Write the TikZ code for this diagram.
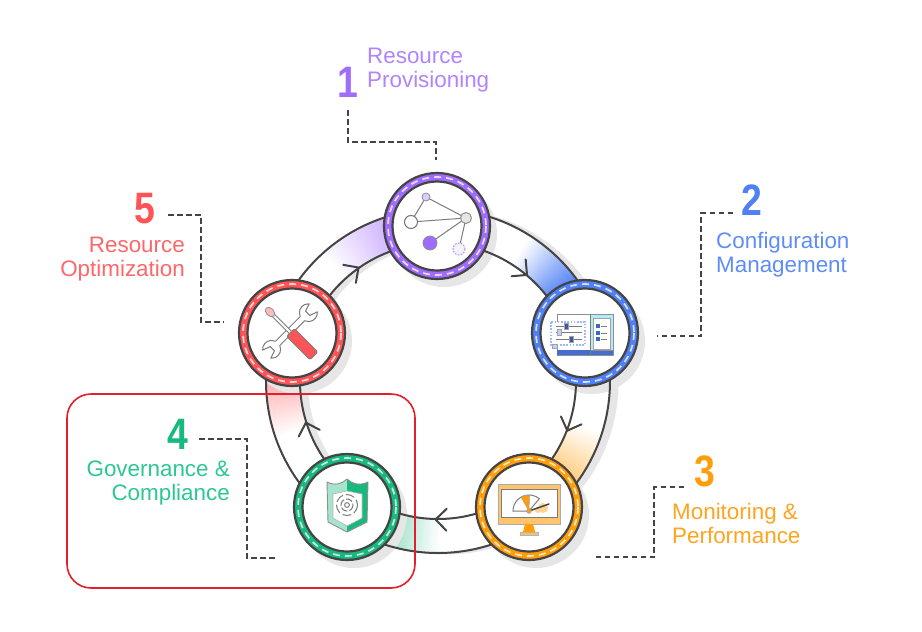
\documentclass[tikz,border=0pt]{standalone}
\usepackage{graphicx}
\usepackage{fontspec}
\setmainfont{Liberation Sans}
\usetikzlibrary{calc}
\definecolor{ink}{HTML}{444444}
\definecolor{softgrey}{HTML}{E6E6E6}
\definecolor{cpurple}{HTML}{A06BFF}
\definecolor{cblue}{HTML}{4F80F5}
\definecolor{corange}{HTML}{FF9D0A}
\definecolor{cgreen}{HTML}{17B97F}
\definecolor{cred}{HTML}{FF5457}
\definecolor{tpurple}{HTML}{B184FF}
\definecolor{tblue}{HTML}{5F8DF8}
\definecolor{torange}{HTML}{FFA41F}
\definecolor{tgreen}{HTML}{2CC893}
\definecolor{tred}{HTML}{FF6669}
\definecolor{framered}{HTML}{E2202C}
\newcommand{\dg}[1]{\scalebox{.85}[1]{#1}}
\tikzset{
  x=1pt,y=-1pt,
  ringnode/.style={circle,draw=ink,line width=2.2pt,fill=#1,minimum size=106pt,inner sep=0pt},
  digit/.style={font=\fontsize{44}{44}\selectfont\bfseries,inner sep=0pt,text=#1},
  tag/.style={font=\fontsize{22.4}{24}\selectfont,inner sep=0pt,text=#1},
  leader/.style={draw=ink,line width=1.7pt,dash pattern=on 5.5pt off 3.5pt},
}
% args: centre x, y, colour
\newcommand{\ringinner}[3]{%
  \fill[white,draw=ink,line width=2.2pt] (#1,#2) circle[radius=44.5];
  \draw[#3!25!white,line width=1.7pt,dash pattern=on 7pt off 5pt] (#1,#2) circle[radius=49];
}
% start angle, end angle, colour
\newcommand{\fadeband}[3]{%
  \foreach \i in {0,...,29}{%
    \pgfmathsetmacro{\ang}{#1+(#2-#1)*\i/30}
    \pgfmathsetmacro{\dl}{(#2-#1)/30*1.2}
    \pgfmathsetmacro{\pc}{100-100*\i/29}
    \draw[#3!\pc!white,line width=33pt] ({-\ang}:155) arc[start angle={-\ang},delta angle={-\dl},radius=155];
  }%
}
\newcommand{\barb}[1]{%
  \begin{scope}[shift={({-(#1)}:138.5)},rotate=#1-90]
    \draw[ink,line width=2pt,line cap=round,line join=miter] (-11,-11) -- (0,0) -- (-11,11);
  \end{scope}%
}
\begin{document}
\begin{tikzpicture}
\useasboundingbox (0,0) rectangle (922,632);
\fill[white] (0,0) rectangle (922,632);

% ring with its shadow
\begin{scope}[shift={(438,381)}]
  \fill[softgrey,even odd rule] (8,1) circle[radius=172.5] (8,1) circle[radius=138];
  \fill[white,even odd rule] (0,0) circle[radius=172] (0,0) circle[radius=138];
  \colorlet{fp}{cpurple!50!white}\fadeband{108}{133}{fp}
  \colorlet{fb}{cblue!95!white}\fadeband{36}{58}{fb}
  \colorlet{fo}{corange!50!white}\fadeband{-36}{-17}{fo}
  \colorlet{fg}{cgreen!45!white}\fadeband{-108}{-89}{fg}
  \colorlet{fr}{cred!45!white}\fadeband{180}{200}{fr}
\end{scope}

% node shadows
\foreach \px/\py in {437/226,585/333,529/507,347/507,292/333}{
  \fill[softgrey] (\px+7,\py+8) circle[radius=53];
}

\begin{scope}[shift={(438,381)}]
  \draw[ink,line width=2pt] (0,0) circle[radius=172] (0,0) circle[radius=138];
  \barb{125}\barb{50}\barb{-21}\barb{-91}\barb{197.5}
\end{scope}

% nodes
\node[ringnode=cpurple] (n1) at (437,226) {};
\node[ringnode=cblue]   (n2) at (585,333) {};
\node[ringnode=corange] (n3) at (529,507) {};
\node[ringnode=cgreen]  (n4) at (347,507) {};
\node[ringnode=cred]    (n5) at (292,333) {};
\ringinner{437}{226}{cpurple}
\ringinner{585}{333}{cblue}
\ringinner{529}{507}{corange}
\ringinner{347}{507}{cgreen}
\ringinner{292}{333}{cred}

% icon 1: network
\draw[ink!70,line width=1pt] (426,197) -- (466,218) -- (411,222) -- (426,197) (466,218) -- (430,243) (466,218) -- (459,249);
\fill[cpurple!35!white,draw=ink!60,line width=.8pt] (426,197) circle[radius=4];
\fill[white,draw=ink!75,line width=1pt] (411,222) circle[radius=6.5];
\fill[softgrey,draw=ink!60,line width=1pt] (466,218) circle[radius=5.5];
\fill[cpurple,draw=ink!60,line width=.8pt] (430,243) circle[radius=7];
\fill[softgrey!50!white] (459,249) circle[radius=6];
\draw[cpurple!80!white,line width=1pt,dash pattern=on 1.6pt off 1.4pt] (459,249) circle[radius=6];

% icon 2: settings panel
\fill[white,draw=ink!60,line width=1pt] (557,314) rectangle (613,355);
\fill[cblue!85!black] (557,350) rectangle (613,355);
\fill[cblue!45!cyan!35!white,draw=ink!60,line width=.8pt] (590,314) rectangle (613,350);
\draw[ink!70,line width=.8pt] (590,314) -- (590,355);
\fill[white,draw=ink!50,line width=.6pt] (593,318) rectangle (610,349);
\foreach \yy in {326,333,339}{
  \fill[cblue!80!black] (596,\yy-2) rectangle (600,\yy+2);
  \draw[ink!70,line width=.7pt] (601,\yy) -- (607,\yy);
}
\fill[white] (551,322) rectangle (585,345);
\draw[cblue!55!white,line width=1.4pt,dash pattern=on 1.6pt off 1.6pt] (551,322) rectangle (585,345);
\foreach \yy in {326,332,339}{\draw[ink!70,line width=.8pt] (556,\yy) -- (582,\yy);}
\fill[cblue!70!black,draw=ink!50,line width=.4pt] (564,323) rectangle (568,329);
\fill[cblue!35!white,draw=ink!50,line width=.4pt] (557,329) rectangle (561,335);
\fill[cblue!70!black,draw=ink!50,line width=.4pt] (569,336) rectangle (573,342);
\fill[cblue!35!white,draw=ink!50,line width=.4pt] (552,344) rectangle (557,348);

% icon 3: monitor
\fill[corange!60!white,draw=ink!45,line width=1pt] (498,484) rectangle (560,524);
\fill[white,draw=ink!70,line width=1pt] (501,489) rectangle (557,517);
\fill[corange] (525,524) -- (533,524) -- (535,532) -- (523,532) -- cycle;
\fill[corange!65!white,draw=ink!40,line width=.6pt] (520,532) rectangle (538,535);
\fill[corange!45!white] (543,508) circle[radius=5];
\fill[corange!45!white] (538,510) circle[radius=3];
\draw[ink!70,line width=1pt] (529,511) -- (513,511) arc[start angle=180,end angle=310,radius=16] -- cycle;
\fill[corange,draw=ink!50,line width=.5pt] (529,511) -- ++(240:16) arc[start angle=240,end angle=272,radius=16] -- cycle;
\draw[ink,line width=1.5pt,line cap=round] (529,511) -- (549,504);
\fill[corange,draw=ink!50,line width=.5pt] (529,511) circle[radius=2.4];

% icon 4: shield
\fill[cgreen!38!white] (327,482) .. controls (335,486) and (342,484) .. (347,479) -- (347,532) -- (328,522) -- cycle;
\fill[cgreen] (368,482) .. controls (360,486) and (352,484) .. (347,479) -- (347,532) -- (367,522) -- cycle;
\draw[ink!60,line width=.9pt,line join=round] (327,482) .. controls (335,486) and (342,484) .. (347,479) .. controls (352,484) and (360,486) .. (368,482) -- (367,522) -- (347,532) -- (328,522) -- cycle;
\fill[white,draw=ink!40,line width=.6pt] (333,494) -- (347,491) -- (362,494) -- (362,518) -- (347,526) -- (333,518) -- cycle;
\draw[ink!70,line width=1pt] (347,505) circle[radius=2.4];
\draw[ink!70,line width=1pt,dash pattern=on 7pt off 2pt] (347,505) circle[radius=6];
\draw[ink!70,line width=1pt,dash pattern=on 9pt off 3pt] (347,505) circle[radius=10.5];

% icon 5: tools (wrench under, screwdriver over)
\begin{scope}[shift={(290,331)},rotate=45]
  \filldraw[fill=white,draw=ink!70,line width=1pt,line join=round]
    (-17.5,-3) -- (17.5,-3) arc[start angle=200,end angle=320,radius=9] -- (25,-3) -- (25,3) -- (32.9,5.8)
    arc[start angle=40,end angle=160,radius=9] -- (-17.5,3)
    arc[start angle=20,end angle=140,radius=9] -- (-25,3) -- (-25,-3) -- (-32.9,-5.8)
    arc[start angle=220,end angle=340,radius=9] -- cycle;
\end{scope}
\begin{scope}[shift={(270,312)},rotate=-45]
  \filldraw[fill=white,draw=ink!70,line width=.9pt] (4,-1.6) rectangle (31,1.6);
  \filldraw[fill=cred!40!white,draw=ink!60,line width=.8pt] (0,0) ellipse[x radius=5.5,y radius=3.8];
  \filldraw[fill=cred,draw=ink!70,line width=.9pt,rounded corners=2pt] (29,-5.5) rectangle (62,5.5);
\end{scope}

% leaders
\coordinate (a1) at (348,110); \coordinate (b1) at (348,142); \coordinate (c1) at (436,142); \coordinate (d1) at (436,160);
\coordinate (a2) at (733,213); \coordinate (b2) at (701,213); \coordinate (c2) at (701,336); \coordinate (d2) at (657,336);
\coordinate (a3) at (684,487); \coordinate (b3) at (654,487); \coordinate (c3) at (654,557); \coordinate (d3) at (594,557);
\coordinate (a4) at (199,439); \coordinate (b4) at (247,439); \coordinate (c4) at (247,558); \coordinate (d4) at (277,558);
\coordinate (a5) at (168,215); \coordinate (b5) at (201,215); \coordinate (c5) at (201,322); \coordinate (d5) at (224,322);
\foreach \k in {1,...,5}{\draw[leader] (a\k) -- (b\k) -- (c\k) -- (d\k);}

% digits
\node[digit=cpurple] (d1n) at (347.5,82) {\dg{1}};
\node[digit=cblue]   (d2n) at (752,200) {\dg{2}};
\node[digit=corange] (d3n) at (705,471) {\dg{3}};
\node[digit=cgreen]  (d4n) at (178,434) {\dg{4}};
\node[digit=cred]    (d5n) at (145,209) {\dg{5}};

% captions
\node[tag=tpurple,anchor=base west] (t1a) at (367,63.5) {Resource};
\node[tag=tpurple,anchor=base west] (t1b) at (367,87.5) {Provisioning};
\node[tag=tblue,anchor=base west] (t2a) at (716,248.5) {Configuration};
\node[tag=tblue,anchor=base west] (t2b) at (716,272.5) {Management};
\node[tag=torange,anchor=base west] (t3a) at (672,519) {Monitoring \&};
\node[tag=torange,anchor=base west] (t3b) at (672,543) {Performance};
\node[tag=tgreen,anchor=base east] (t4a) at (230,476.5) {Governance \&};
\node[tag=tgreen,anchor=base east] (t4b) at (230,500.5) {Compliance};
\node[tag=tred,anchor=base east] (t5a) at (185,252.5) {Resource};
\node[tag=tred,anchor=base east] (t5b) at (185,276.5) {Optimization};

% highlight frame
\draw[framered,line width=1.6pt,rounded corners=24pt] (67,394) rectangle (415,588);
\end{tikzpicture}
\end{document}
